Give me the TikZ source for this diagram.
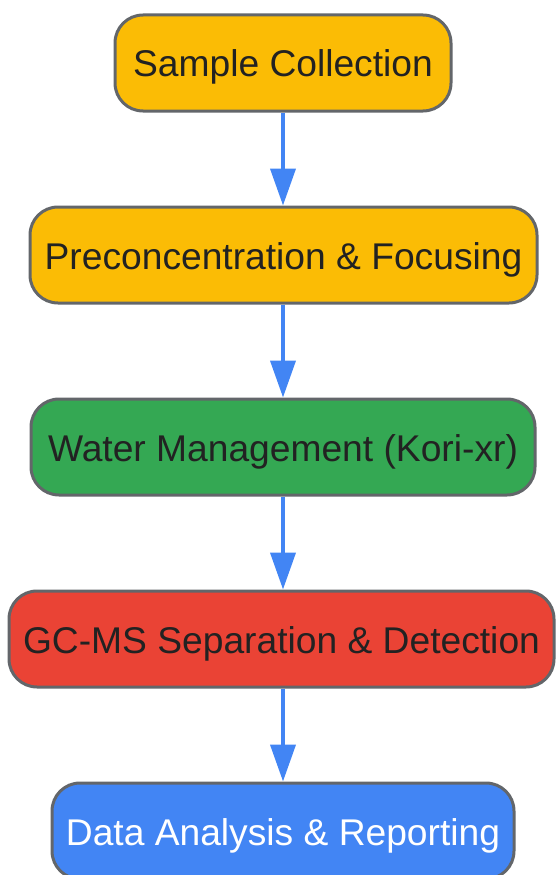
\documentclass[tikz,border=0pt]{standalone}
\usepackage{fontspec}
\setmainfont{Liberation Sans}
\usetikzlibrary{arrows.meta}
\definecolor{gyellow}{HTML}{FBBC05}
\definecolor{ggreen}{HTML}{34A853}
\definecolor{gred}{HTML}{EA4335}
\definecolor{gblue}{HTML}{4285F4}
\definecolor{stroke}{HTML}{63666A}
\definecolor{txt}{HTML}{222222}
\tikzset{
  stepbox/.style={draw=stroke, line width=3pt, rounded corners=28pt,
    minimum height=96pt, inner sep=0pt, text=txt,
    text height=28pt, text depth=0pt,
    font=\fontsize{37.2}{44}\selectfont},
  flow/.style={draw=gblue, line width=4pt,
    -{Triangle[length=37pt,width=25pt]}},
}
\begin{document}
\begin{tikzpicture}[x=1pt,y=-1pt]
\useasboundingbox (0,0) rectangle (555,875);
\node[stepbox, fill=gyellow, minimum width=336pt] (n1) at (283,63) {Sample Collection};
\node[stepbox, fill=gyellow, minimum width=507pt] (n2) at (283.5,255) {Preconcentration \& Focusing};
\node[stepbox, fill=ggreen, minimum width=504pt] (n3) at (283,447) {Water Management (Kori-xr)};
\node[stepbox, fill=gred, minimum width=545pt] (n4) at (281.5,639) {GC-MS Separation \& Detection};
\node[stepbox, fill=gblue, minimum width=462pt, text=white] (n5) at (283,831) {Data Analysis \& Reporting};
\draw[flow] (n1.south) -- (n1.south |- n2.north);
\draw[flow] (n2.south -| n1.south) -- (n1.south |- n3.north);
\draw[flow] (n3.south -| n1.south) -- (n1.south |- n4.north);
\draw[flow] (n4.south -| n1.south) -- (n1.south |- n5.north);
\end{tikzpicture}
\end{document}
